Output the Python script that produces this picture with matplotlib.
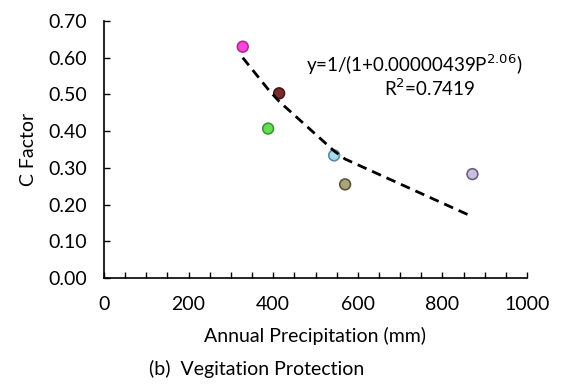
import matplotlib.pyplot as plt
import matplotlib as mpl
from matplotlib.ticker import MultipleLocator

mpl.rcParams['font.family'] = ['Lato', 'DejaVu Sans']
mpl.rcParams['font.size'] = 14

# observed points
precip = [328, 414, 388, 544, 570, 871]
c_factor = [0.630, 0.503, 0.407, 0.334, 0.255, 0.283]
fills = ['#FF44DD', '#7A2A2A', '#66DD55', '#A8DCEA', '#A9A47C', '#C9C0DD']
edges = ['#B02A90', '#4A1515', '#3A9A30', '#5A8CA0', '#5A563A', '#6A6080']

# fitted curve y=1/(1+0.00000439P^2.06), read at the observed precipitation
fit_p = [328, 388, 414, 544, 570, 871]
fit_c = [0.600, 0.514, 0.481, 0.346, 0.324, 0.167]

fig = plt.figure(figsize=(5.71, 3.88), dpi=100)
ax = fig.add_axes([104 / 571, 1 - 278 / 388, (527 - 104) / 571, (278 - 21) / 388])

ax.scatter(precip, c_factor, s=60, c=fills, edgecolors=edges, linewidths=1.2, zorder=2)
ax.plot(fit_p, fit_c, linestyle=(0, (3.5, 2.2)), color='black', linewidth=2, zorder=3)

ax.set_xlim(0, 1000)
ax.set_ylim(0, 0.70)
ax.xaxis.set_major_locator(MultipleLocator(200))
ax.xaxis.set_minor_locator(MultipleLocator(50))
ax.yaxis.set_major_locator(MultipleLocator(0.1))
ax.yaxis.set_major_formatter(mpl.ticker.FormatStrFormatter('%.2f'))
ax.tick_params(axis='both', which='both', direction='in', length=4, width=1, colors='black')
ax.tick_params(axis='x', pad=13)
ax.tick_params(axis='y', pad=12)

for side in ['top', 'right']:
    ax.spines[side].set_visible(False)
for side in ['left', 'bottom']:
    ax.spines[side].set_linewidth(1.2)

ax.set_xlabel('Annual Precipitation (mm)', labelpad=10)
ax.set_ylabel('C Factor', labelpad=8)

ax.text(733, 0.58, 'y=1/(1+0.00000439P$^{2.06}$)', ha='center', va='center', fontsize=13.5)
ax.text(771, 0.517, 'R$^{2}$=0.7419', ha='center', va='center', fontsize=13.5)

fig.text(257 / 571, 1 - 369 / 388, '(b)  Vegitation Protection', ha='center', va='center')

fig.savefig('out.png', dpi=100)
